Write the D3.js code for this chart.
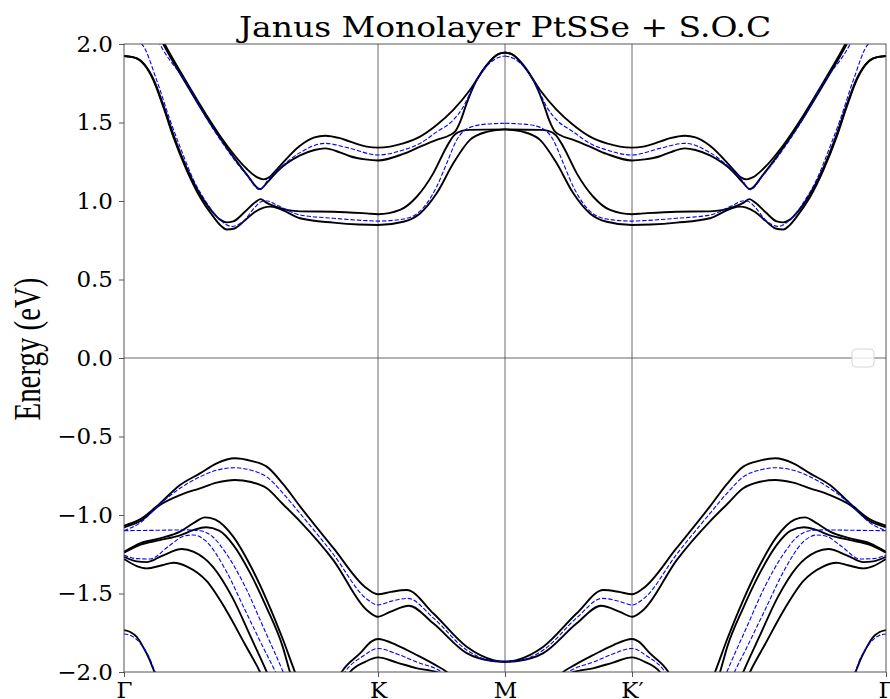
<!DOCTYPE html>
<html>
<head>
<meta charset="utf-8">
<script src="https://cdn.jsdelivr.net/npm/d3@7"></script>
<style>
  body { margin: 0; background: #fff; }
  svg { display: block; }
</style>
</head>
<body>
<svg id="chart" width="890" height="699"></svg>
<script>
// High-symmetry points along the path (distance units, K at 2, M at 3)
const kPositions = [0, 2, 3, 4, 6];
const kLabels = ["Γ", "K", "M", "K′", "Γ"];
const energyTicks = [-2.0, -1.5, -1.0, -0.5, 0.0, 0.5, 1.0, 1.5, 2.0];

// Bands read along Γ→K→M as [k, E(eV)]; M→K′→Γ is the mirror image.
// Black solid = with SOC
const socCond1 = [[0,1.924],[0.06,1.918],[0.126,1.895],[0.2,1.82],[0.231,1.77],[0.309,1.60],[0.388,1.41],[0.494,1.195],[0.598,1.025],[0.703,0.90],[0.76,0.845],[0.809,0.818],[0.87,0.825],[0.95,0.875],[1.03,0.93],[1.1,0.958],[1.15,0.964],[1.22,0.952],[1.386,0.89],[1.648,0.862],[1.85,0.85],[2.0,0.847],[2.199,0.868],[2.331,0.921],[2.462,1.049],[2.593,1.24],[2.724,1.389],[2.856,1.44],[3.0,1.456]];
const socCond2 = [[0,1.924],[0.06,1.918],[0.126,1.898],[0.2,1.825],[0.231,1.778],[0.309,1.612],[0.388,1.425],[0.494,1.21],[0.598,1.045],[0.703,0.925],[0.76,0.88],[0.809,0.864],[0.86,0.87],[0.95,0.93],[1.03,0.99],[1.075,1.012],[1.12,0.99],[1.2,0.962],[1.386,0.934],[1.648,0.932],[1.911,0.921],[2.0,0.916],[2.173,0.943],[2.305,1.027],[2.435,1.176],[2.541,1.346],[2.6,1.42],[2.66,1.447],[2.724,1.453],[3.0,1.456]];
const socCond3 = [[0,2.38],[0.15,2.26],[0.309,2.0],[0.494,1.74],[0.651,1.53],[0.809,1.34],[0.966,1.17],[1.071,1.076],[1.13,1.12],[1.202,1.185],[1.386,1.29],[1.5,1.325],[1.583,1.335],[1.7,1.31],[1.78,1.285],[1.9,1.265],[2.0,1.258],[2.199,1.30],[2.331,1.346],[2.462,1.389],[2.567,1.42],[2.61,1.445],[2.65,1.51],[2.698,1.622],[2.777,1.77],[2.856,1.866],[2.947,1.936],[3.0,1.945]];
const socCond4 = [[0,2.42],[0.15,2.28],[0.32,2.0],[0.494,1.755],[0.651,1.545],[0.809,1.355],[0.966,1.205],[1.05,1.15],[1.097,1.138],[1.15,1.155],[1.202,1.20],[1.386,1.352],[1.5,1.405],[1.583,1.416],[1.7,1.40],[1.78,1.378],[1.911,1.346],[2.0,1.34],[2.199,1.367],[2.331,1.41],[2.462,1.484],[2.593,1.58],[2.724,1.707],[2.856,1.866],[2.947,1.936],[3.0,1.946]];

const socVal1 = [[0,-1.068],[0.126,-1.028],[0.283,-0.926],[0.441,-0.809],[0.598,-0.735],[0.73,-0.671],[0.872,-0.639],[1.0,-0.655],[1.124,-0.692],[1.25,-0.80],[1.386,-0.945],[1.648,-1.21],[1.911,-1.467],[2.0,-1.505],[2.1,-1.49],[2.226,-1.478],[2.435,-1.626],[2.698,-1.839],[2.908,-1.924],[3.0,-1.935]];
const socVal2 = [[0,-1.078],[0.126,-1.04],[0.283,-0.936],[0.441,-0.873],[0.598,-0.83],[0.73,-0.794],[0.872,-0.777],[1.0,-0.79],[1.124,-0.83],[1.25,-0.93],[1.386,-1.04],[1.648,-1.287],[1.911,-1.605],[2.0,-1.648],[2.1,-1.615],[2.244,-1.578],[2.435,-1.69],[2.698,-1.88],[2.9,-1.93],[3.0,-1.935]];
const socVal3 = [[0,-1.234],[0.126,-1.18],[0.283,-1.149],[0.441,-1.106],[0.55,-1.05],[0.638,-1.015],[0.72,-1.03],[0.86,-1.138],[1.0,-1.33],[1.123,-1.54],[1.25,-1.79],[1.346,-2.0],[1.5,-2.3]];
const socVal4 = [[0,-1.24],[0.126,-1.19],[0.283,-1.16],[0.441,-1.13],[0.55,-1.095],[0.646,-1.078],[0.75,-1.10],[0.86,-1.19],[1.0,-1.38],[1.123,-1.59],[1.25,-1.84],[1.307,-2.0],[1.45,-2.3]];
const socVal5 = [[0,-1.266],[0.1,-1.295],[0.178,-1.30],[0.3,-1.26],[0.455,-1.217],[0.55,-1.235],[0.7,-1.33],[0.85,-1.52],[1.0,-1.78],[1.124,-2.0],[1.25,-2.25]];
const socVal6 = [[0,-1.28],[0.1,-1.325],[0.178,-1.34],[0.3,-1.32],[0.39,-1.304],[0.5,-1.33],[0.65,-1.42],[0.8,-1.60],[0.95,-1.82],[1.071,-2.0],[1.2,-2.25]];
const socVal7 = [[0,-1.733],[0.05,-1.745],[0.1,-1.777],[0.15,-1.84],[0.2,-1.92],[0.24,-2.0],[0.3,-2.1]];
const socValK1 = [[1.6,-2.2],[1.714,-2.0],[1.86,-1.88],[1.95,-1.805],[2.0,-1.79],[2.15,-1.83],[2.3,-1.89],[2.45,-1.955],[2.541,-2.0],[2.65,-2.1]];
const socValK2 = [[1.65,-2.2],[1.78,-2.0],[1.9,-1.935],[2.0,-1.907],[2.15,-1.94],[2.3,-1.975],[2.46,-2.0],[2.6,-2.05]];

// Blue dashed = without SOC
const noSocCond1 = [[0,2.05],[0.139,2.0],[0.257,1.77],[0.362,1.516],[0.441,1.346],[0.55,1.13],[0.65,0.99],[0.75,0.885],[0.85,0.838],[0.95,0.88],[1.03,0.96],[1.09,0.998],[1.13,1.0],[1.2,0.975],[1.386,0.911],[1.648,0.89],[1.911,0.875],[2.0,0.872],[2.199,0.885],[2.331,0.935],[2.462,1.091],[2.541,1.24],[2.62,1.389],[2.724,1.469],[2.856,1.49],[3.0,1.495]];
const noSocCond2 = [[0,2.40],[0.15,2.25],[0.283,2.0],[0.494,1.75],[0.651,1.525],[0.809,1.33],[0.966,1.165],[1.071,1.072],[1.13,1.13],[1.202,1.19],[1.386,1.308],[1.583,1.367],[1.78,1.335],[2.0,1.293],[2.199,1.325],[2.331,1.367],[2.462,1.44],[2.593,1.516],[2.672,1.60],[2.724,1.686],[2.829,1.834],[2.935,1.909],[3.0,1.924]];
const noSocVal1 = [[0,-1.10],[0.126,-1.05],[0.283,-0.93],[0.441,-0.83],[0.598,-0.757],[0.73,-0.715],[0.872,-0.699],[1.0,-0.715],[1.124,-0.757],[1.25,-0.86],[1.386,-0.99],[1.648,-1.25],[1.911,-1.535],[2.0,-1.573],[2.1,-1.55],[2.235,-1.531],[2.435,-1.655],[2.698,-1.86],[2.9,-1.93],[3.0,-1.935]];
const noSocVal2 = [[0,-1.10],[0.2,-1.098],[0.5,-1.095],[0.6,-1.10],[0.7,-1.14],[0.8,-1.24],[0.95,-1.45],[1.1,-1.72],[1.253,-2.0],[1.4,-2.3]];
const noSocVal3 = [[0,-1.255],[0.1,-1.278],[0.205,-1.28],[0.35,-1.2],[0.47,-1.135],[0.545,-1.127],[0.65,-1.17],[0.8,-1.35],[0.95,-1.6],[1.1,-1.85],[1.193,-2.0],[1.35,-2.3]];
const noSocVal4 = [[0,-1.758],[0.06,-1.77],[0.126,-1.815],[0.2,-1.91],[0.244,-2.0],[0.35,-2.2]];
const noSocValK = [[1.62,-2.2],[1.74,-2.0],[1.88,-1.9],[2.0,-1.85],[2.15,-1.885],[2.3,-1.935],[2.5,-2.0],[2.6,-2.07]];

const socBands = [socCond1, socCond2, socCond3, socCond4, socVal1, socVal2, socVal3, socVal4, socVal5, socVal6, socVal7, socValK1, socValK2];
const noSocBands = [noSocCond1, noSocCond2, noSocVal1, noSocVal2, noSocVal3, noSocVal4, noSocValK];

const svg = d3.select("#chart");
const margin = { top: 44, right: 4, bottom: 27, left: 124 };
const width = 890 - margin.left - margin.right;
const height = 699 - margin.top - margin.bottom;

const x = d3.scaleLinear().domain([0, 6]).range([0, width]);
// second half of the path, M→K′→Γ, drawn as the mirror of Γ→K→M
const xMirror = d3.scaleLinear().domain([0, 3]).range([x(6), x(3)]);
const y = d3.scaleLinear().domain([-2, 2]).range([height, 0]);

const g = svg.append("g").attr("transform", `translate(${margin.left},${margin.top})`);

g.append("clipPath").attr("id", "plot-clip")
  .append("rect").attr("width", width).attr("height", height);

// high-symmetry vertical lines and Fermi level
g.append("g").selectAll("line")
  .data(kPositions.slice(1, -1))
  .join("line")
  .attr("x1", d => x(d)).attr("x2", d => x(d))
  .attr("y1", 0).attr("y2", height)
  .attr("stroke", "#444").attr("stroke-width", 0.8);

g.append("line")
  .attr("x1", 0).attr("x2", width)
  .attr("y1", y(0)).attr("y2", y(0))
  .attr("stroke", "#444").attr("stroke-width", 0.8);

const plot = g.append("g").attr("clip-path", "url(#plot-clip)");

function lineFor(scale) {
  return d3.line()
    .x(d => scale(d[0]))
    .y(d => y(d[1]))
    .curve(d3.curveMonotoneX);
}
const lineLeft = lineFor(x);
const lineRight = lineFor(xMirror);

function drawBands(bands, cls, stroke, widthPx, dash) {
  const layer = plot.append("g").attr("class", cls)
    .attr("fill", "none")
    .attr("stroke", stroke)
    .attr("stroke-width", widthPx)
    .attr("stroke-linejoin", "round");
  if (dash) layer.attr("stroke-dasharray", dash);
  layer.selectAll("path.left").data(bands).join("path")
    .attr("class", "left")
    .attr("d", d => lineLeft(d));
  layer.selectAll("path.right").data(bands).join("path")
    .attr("class", "right")
    .attr("d", d => lineRight(d.slice().reverse()));
}

drawBands(socBands, "soc", "#000", 1.9, null);
drawBands(noSocBands, "nosoc", "#0000ff", 1.1, "4.4,1.9");

// frame
g.append("rect")
  .attr("width", width).attr("height", height)
  .attr("fill", "none").attr("stroke", "#444").attr("stroke-width", 0.9);

// axes
const yAxis = d3.axisLeft(y)
  .tickValues(energyTicks)
  .tickSize(5)
  .tickPadding(6)
  .tickFormat(d => d3.format(".1f")(d).replace("-", "\u2212"));

const xAxis = d3.axisBottom(x)
  .tickValues(kPositions)
  .tickSize(5)
  .tickPadding(5)
  .tickFormat((d, i) => kLabels[i]);

function styleAxis(sel) {
  sel.select(".domain").remove();
  sel.selectAll(".tick line").attr("stroke", "#444").attr("stroke-width", 0.9);
  sel.selectAll(".tick text")
    .attr("fill", "#000")
    .style("font-family", "'DejaVu Serif', serif")
    .style("font-size", "23px");
}

g.append("g").call(yAxis).call(styleAxis);
g.append("g").attr("transform", `translate(0,${height})`).call(xAxis).call(styleAxis);

// empty legend box (legend with no labelled entries)
g.append("rect")
  .attr("x", width - 34).attr("y", y(0) - 9)
  .attr("width", 22).attr("height", 18)
  .attr("rx", 4).attr("ry", 4)
  .attr("fill", "#fff").attr("fill-opacity", 0.8)
  .attr("stroke", "#d6d6d6").attr("stroke-width", 1);

// title (wide serif face in the original)
svg.append("text")
  .attr("transform", `translate(${margin.left + width / 2},37) scale(1.22,1)`)
  .attr("text-anchor", "middle")
  .style("font-family", "'DejaVu Serif', serif")
  .style("font-size", "27px")
  .text("Janus Monolayer PtSSe + S.O.C");

// y label (narrow serif face in the original)
svg.append("text")
  .attr("transform", `translate(39.5,${margin.top + height / 2 - 9}) rotate(-90) scale(0.76,1)`)
  .attr("text-anchor", "middle")
  .style("font-family", "'Liberation Serif', serif")
  .style("font-size", "38px")
  .text("Energy (eV)");
</script>
</body>
</html>
